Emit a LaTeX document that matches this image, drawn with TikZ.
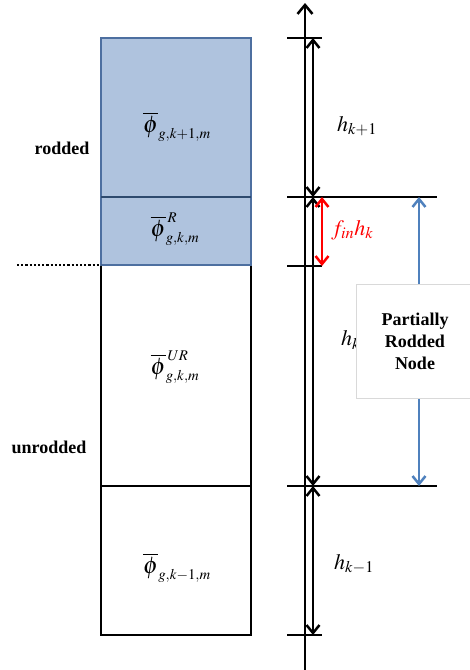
\documentclass[tikz,border=0pt]{standalone}
\usepackage{mathptmx}
\usepackage{fontspec}
\setmainfont{Liberation Serif}
\usetikzlibrary{arrows.meta}
\definecolor{rodfill}{HTML}{AFC3DE}
\definecolor{rodedge}{HTML}{4D6FA0}
\definecolor{roddiv}{HTML}{2E4A6E}
\definecolor{bluearrow}{HTML}{4F81BD}
\definecolor{boxedge}{HTML}{D9D9D9}
\begin{document}
\begin{tikzpicture}[x=1pt,y=-1pt,
  cell/.style={draw=black, line width=2.5pt, minimum width=150pt, inner sep=0pt, outer sep=0pt},
  rod/.style={cell, draw=rodedge, fill=rodfill},
  lbl/.style={font=\bfseries\fontsize{18}{22}\selectfont},
  mlbl/.style={font=\fontsize{20}{24}\selectfont, inner sep=0pt},
  hl/.style={font=\fontsize{22}{26}\selectfont, inner sep=0pt, anchor=west},
  tickline/.style={line width=2.5pt},
  dimarrow/.style={line width=2.5pt, {Straight Barb[length=8pt,width=13pt]}-{Straight Barb[length=8pt,width=13pt]}},
]
\useasboundingbox (0,0) rectangle (470,670);
\fill[white] (0,0) rectangle (470,670);

% column of cells
\node[cell, minimum height=221pt] (n3) at (176,375.5) {};
\node[cell, minimum height=149pt] (n4) at (176,560.5) {};
\node[rod, minimum height=159pt] (n1) at (176,117.5) {};
\node[rod, minimum height=68pt] (n2) at (176,231) {};
\draw[roddiv, line width=2.5pt] (n1.south west) -- (n1.south east);

\newcommand{\bigphi}{\overline{\mbox{\fontsize{24}{24}\selectfont$\phi$}}}
\node[mlbl] (p1) at (177,127) {$\bigphi_{g,k+1,m}$};
\node[mlbl] (p2) at (175,229) {$\bigphi^{\,R}_{g,k,m}$};
\node[mlbl] (p3) at (175,367) {$\bigphi^{\,UR}_{g,k,m}$};
\node[mlbl] (p4) at (177,568) {$\bigphi_{g,k-1,m}$};

% side labels
\node[lbl] (rod) at (62,148) {rodded};
\node[lbl] (unrod) at (49,447) {unrodded};
\coordinate (dotL) at (17,265);
\draw[line width=2.5pt, dash pattern=on 2.2pt off 2pt] (dotL) -- (n2.south west);

% axis
\coordinate (axtop) at (305,3);
\coordinate (axbot) at (305,672);
\draw[line width=2.5pt, -{Straight Barb[length=9pt,width=15pt]}] (axbot) -- (axtop);

% ticks
\coordinate (t1L) at (287,38);  \coordinate (t1R) at (322,38);
\coordinate (t2L) at (287,197); \coordinate (t2R) at (437,197);
\coordinate (t3L) at (287,266); \coordinate (t3R) at (322,266);
\coordinate (t4L) at (287,486); \coordinate (t4R) at (437,486);
\coordinate (t5L) at (287,635); \coordinate (t5R) at (322,635);
\draw[tickline] (t1L) -- (t1R);
\draw[tickline] (t2L) -- (t2R);
\draw[tickline] (t3L) -- (t3R);
\draw[tickline] (t4L) -- (t4R);
\draw[tickline] (t5L) -- (t5R);

% dimension arrows
\coordinate (d1) at (313,38);
\coordinate (d2) at (313,197);
\coordinate (d4) at (313,486);
\coordinate (d5) at (313,635);
\draw[dimarrow] (d1) -- (d2);
\draw[dimarrow] (d2) -- (d4);
\draw[dimarrow] (d4) -- (d5);

\coordinate (r1) at (322,197);
\coordinate (r2) at (322,266);
\draw[dimarrow, red] (r1) -- (r2);

\coordinate (b1) at (419,197);
\coordinate (b2) at (419,486);
\draw[dimarrow, bluearrow] (b1) -- (b2);

% dimension labels
\node[hl] (hk1) at (337,126) {$h_{k+1}$};
\node[hl, text=red] (fh) at (331,230) {$f_{in}h_k$};
\node[hl] (hk) at (341,340) {$h_k$};
\node[hl] (hkm1) at (334,564) {$h_{k-1}$};

% partially rodded node box
\node[draw=boxedge, fill=white, line width=0.8pt, minimum width=118pt, minimum height=114pt,
      align=center, lbl, inner sep=0pt] (prn) at (415,341) {Partially\\Rodded\\Node};
\end{tikzpicture}
\end{document}
